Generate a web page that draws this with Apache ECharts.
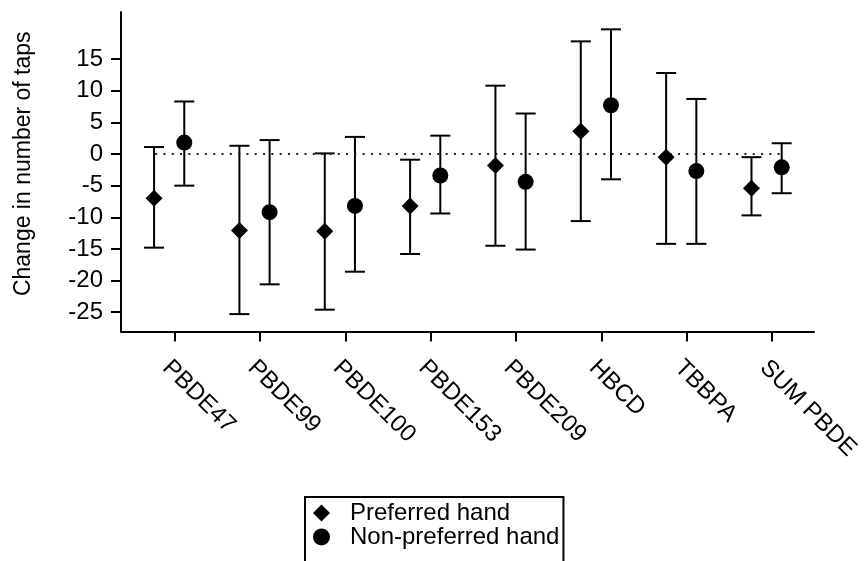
<!DOCTYPE html>
<html>
<head>
<meta charset="utf-8">
<script src="https://cdn.jsdelivr.net/npm/echarts@6/dist/echarts.min.js"></script>
<style>html,body{margin:0;padding:0;background:#fff}#c{width:865px;height:561px}</style>
</head>
<body>
<div id="c"></div>
<script>
var categories = ['PBDE47','PBDE99','PBDE100','PBDE153','PBDE209','HBCD','TBBPA','SUM PBDE'];
var prefMean = [-7.0, -12.1, -12.2, -8.2, -1.8, 3.6, -0.5, -5.4];
var prefLow  = [-14.8, -25.3, -24.6, -15.8, -14.5, -10.6, -14.2, -9.7];
var prefHigh = [1.1, 1.3, 0.1, -0.9, 10.8, 17.8, 12.8, -0.5];
var nonMean  = [1.8, -9.2, -8.2, -3.4, -4.4, 7.7, -2.7, -2.1];
var nonLow   = [-5.0, -20.6, -18.6, -9.4, -15.1, -4.0, -14.2, -6.2];
var nonHigh  = [8.3, 2.2, 2.7, 2.9, 6.4, 19.7, 8.7, 1.7];
var yTicks = [-25, -20, -15, -10, -5, 0, 5, 10, 15];
var seriesNames = ['Preferred hand', 'Non-preferred hand'];

var FONT = "'Liberation Sans', Arial, sans-serif";
var idx = categories.map(function(_, i){ return i; });
var OFF_PREF = -20.7, OFF_NON = 9.5;

function errSeries(name, low, high, off){
  return {
    type: 'custom', name: name + ' CI', silent: true, z: 3,
    data: idx.map(function(i){ return [i, low[i], high[i]]; }),
    renderItem: function(params, api){
      var x = api.value(0);
      var a = api.coord([x, api.value(1)]);
      var b = api.coord([x, api.value(2)]);
      var cx = a[0] + off, hw = 10;
      var st = {stroke: '#000', lineWidth: 2};
      return {type: 'group', children: [
        {type: 'line', shape: {x1: cx, y1: a[1], x2: cx, y2: b[1]}, style: st},
        {type: 'line', shape: {x1: cx - hw, y1: a[1], x2: cx + hw, y2: a[1]}, style: st},
        {type: 'line', shape: {x1: cx - hw, y1: b[1], x2: cx + hw, y2: b[1]}, style: st}
      ]};
    }
  };
}

var chart = echarts.init(document.getElementById('c'), null, {renderer: 'canvas'});
chart.setOption({
  animation: false,
  backgroundColor: '#fff',
  textStyle: {fontFamily: FONT},
  grid: {left: 121, right: 51, top: 12, bottom: 229.5, containLabel: false},
  xAxis: {
    type: 'value', min: -0.63, max: 7.49,
    splitLine: {show: false},
    axisLine: {show: true, onZero: false, lineStyle: {color: '#000', width: 2}},
    axisTick: {show: true, customValues: idx, length: 10, lineStyle: {color: '#000', width: 2}},
    axisLabel: {show: true, customValues: idx, rotate: -45, margin: 24, verticalAlign: 'top',
      fontSize: 24, color: '#000', fontFamily: FONT,
      formatter: function(v){ return categories[Math.round(v)] || ''; }}
  },
  yAxis: {
    type: 'value', min: -28.05, max: 22.44,
    name: 'Change in number of taps', nameLocation: 'middle', nameGap: 86,
    nameTextStyle: {fontSize: 23, color: '#000', fontFamily: FONT, padding: [0, 0, 0, 16]},
    splitLine: {show: false},
    axisLine: {show: true, onZero: false, lineStyle: {color: '#000', width: 2}},
    axisTick: {show: true, customValues: yTicks, length: 10, lineStyle: {color: '#000', width: 2}},
    axisLabel: {show: true, customValues: yTicks, margin: 18, fontSize: 24, color: '#000', fontFamily: FONT}
  },
  legend: {
    orient: 'vertical', left: 305, top: 497, height: 200,
    data: seriesNames,
    backgroundColor: '#fff',
    borderColor: '#000', borderWidth: 2,
    padding: [4, 4, 30, 8],
    itemWidth: 17, itemHeight: 17, itemGap: 0,
    itemStyle: {color: '#000', opacity: 1},
    textStyle: {fontSize: 24, color: '#000', fontFamily: FONT, padding: [0, 0, 0, 15]}
  },
  series: [
    errSeries('pref', prefLow, prefHigh, OFF_PREF),
    errSeries('non', nonLow, nonHigh, OFF_NON),
    {
      type: 'scatter', name: seriesNames[0], symbol: 'diamond', symbolSize: [17, 17],
      symbolOffset: [OFF_PREF, 0], itemStyle: {color: '#000', opacity: 1}, z: 5,
      data: idx.map(function(i){ return [i, prefMean[i]]; }),
      markLine: {
        silent: true, symbol: ['none', 'none'], label: {show: false},
        lineStyle: {color: '#222', width: 2, type: [2, 6.3]},
        data: [[{coord: [-0.23, 0]}, {coord: [7.09, 0]}]]
      }
    },
    {
      type: 'scatter', name: seriesNames[1], symbol: 'circle', symbolSize: 16,
      symbolOffset: [OFF_NON, 0], itemStyle: {color: '#000', opacity: 1}, z: 5,
      data: idx.map(function(i){ return [i, nonMean[i]]; })
    }
  ]
});
</script>
</body>
</html>
